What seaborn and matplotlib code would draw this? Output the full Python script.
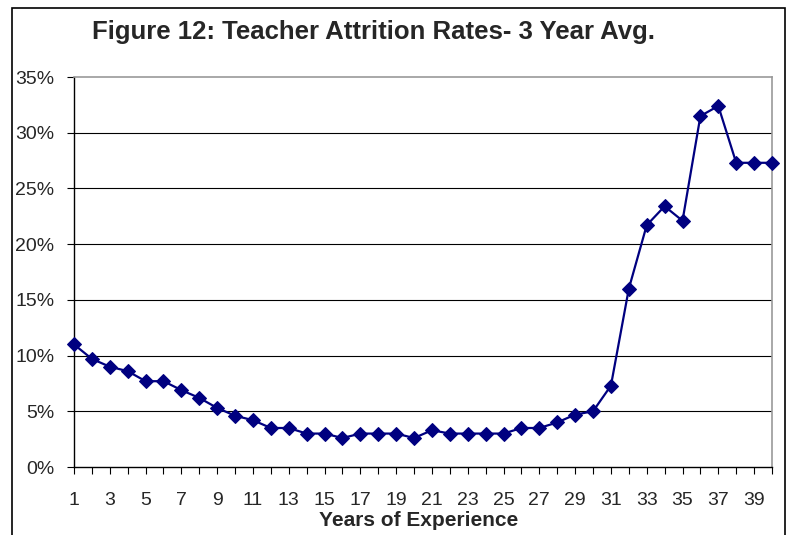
import numpy as np
import pandas as pd
import seaborn as sns
import matplotlib.pyplot as plt
from matplotlib.patches import Rectangle
from matplotlib.ticker import FuncFormatter

# Datos (tasa de abandono, media de 3 años)
anios = list(range(1, 41))
tasa = [11.0, 9.7, 9.0, 8.6, 7.7, 7.7, 6.9, 6.2, 5.3, 4.6,
        4.2, 3.5, 3.5, 3.0, 3.0, 2.6, 3.0, 3.0, 3.0, 2.6,
        3.3, 3.0, 3.0, 3.0, 3.0, 3.5, 3.5, 4.0, 4.7, 5.0,
        7.3, 16.0, 21.7, 23.4, 22.1, 31.5, 32.4, 27.3, 27.3, 27.3]

df = pd.DataFrame({"anio": anios, "tasa": tasa})

sns.set_style("white")
plt.rcParams["font.family"] = ["Liberation Sans", "DejaVu Sans"]

fig = plt.figure(figsize=(7.89, 5.35), dpi=100)
ax = fig.add_axes([74 / 789, 1 - 467 / 535, (772 - 74) / 789, (467 - 77) / 535])

# marco exterior del gráfico
fig.patches.append(Rectangle((12 / 789, -0.05), (785 - 12) / 789, 1.05 - 8 / 535,
                             transform=fig.transFigure, fill=False,
                             edgecolor="black", linewidth=1.2))

for y in range(5, 35, 5):
    ax.axhline(y, color="black", linewidth=0.8, zorder=1)

sns.lineplot(data=df, x="anio", y="tasa", ax=ax, color="#000080",
             marker="D", markersize=7, markeredgecolor="#000080",
             linewidth=1.6, clip_on=False, zorder=3)

ax.set_xlim(1, 40)
ax.set_ylim(0, 35)
ax.set_yticks(range(0, 36, 5))
ax.yaxis.set_major_formatter(FuncFormatter(lambda v, p: f"{int(v)}%"))
ax.set_xticks(anios)
ax.set_xticklabels([str(a) if a % 2 == 1 else "" for a in anios])

ax.tick_params(axis="both", labelsize=14, direction="out", length=5,
               width=0.8, color="black")
ax.tick_params(axis="y", pad=9)
ax.tick_params(axis="x", pad=13)
ax.tick_params(left=True, bottom=True)

for lado in ["top", "right"]:
    ax.spines[lado].set_color("#999999")
    ax.spines[lado].set_linewidth(1.2)
for lado in ["left", "bottom"]:
    ax.spines[lado].set_color("black")
    ax.spines[lado].set_linewidth(1.0)

ax.set_ylabel("")
ax.set_xlabel("Years of Experience", fontsize=15, fontweight="bold")
ax.xaxis.set_label_coords((418.5 - 74) / 698, (467 - 520) / 390)
ax.xaxis.label.set_va("center")
fig.text(374 / 789, 1 - 31.5 / 535, "Figure 12: Teacher Attrition Rates- 3 Year Avg.",
         fontsize=18.5, fontweight="bold", ha="center", va="center")

fig.savefig("out.png", dpi=100)
